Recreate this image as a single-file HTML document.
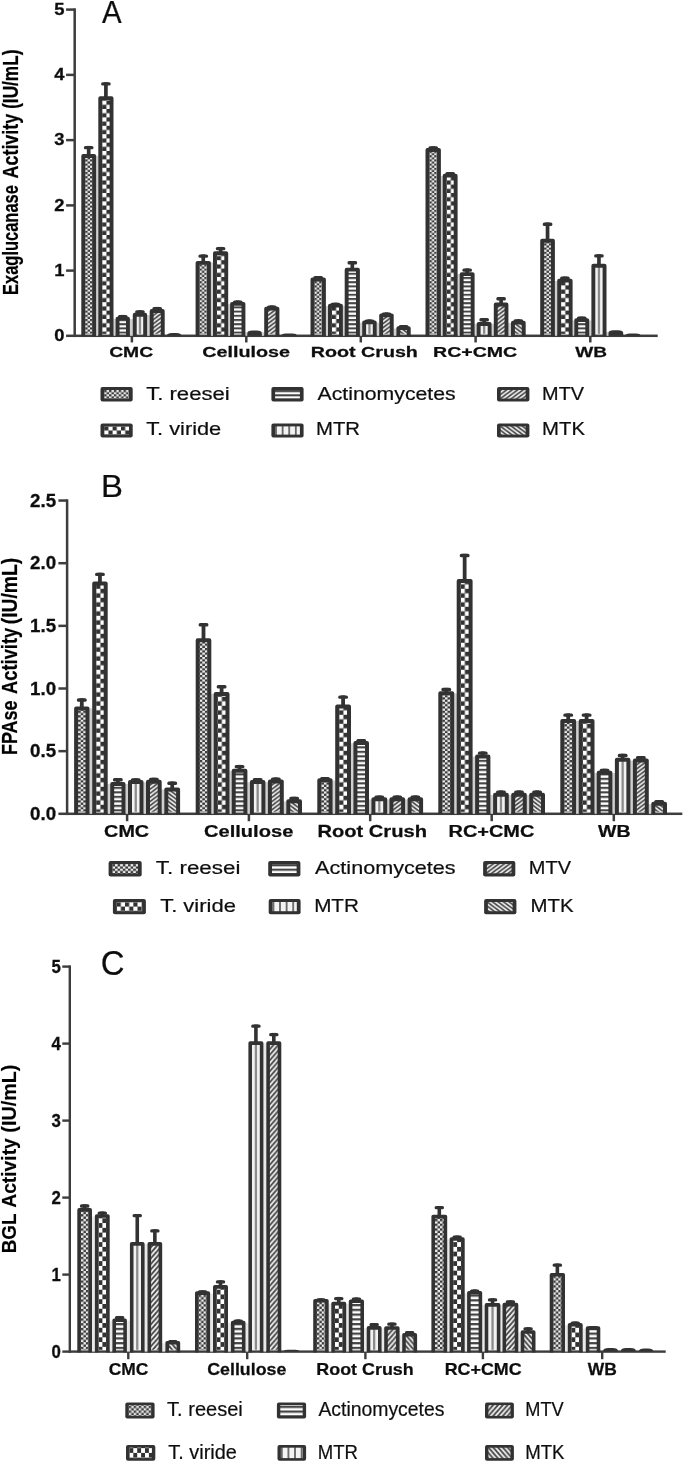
<!DOCTYPE html>
<html><head><meta charset="utf-8"><title>Enzyme activity charts</title>
<style>
html,body{margin:0;padding:0;background:#fff;}
body{width:685px;height:1464px;overflow:hidden;font-family:"Liberation Sans",sans-serif;}
svg{display:block;}
svg text{font-family:"Liberation Sans",sans-serif;}
</style></head><body>
<svg width="685" height="1464" viewBox="0 0 685 1464">
<defs>
<filter id="soft" x="0" y="0" width="100%" height="100%" filterUnits="userSpaceOnUse"><feGaussianBlur stdDeviation="0.6"/></filter>
<pattern id="p1a" width="4.84" height="4.2" patternUnits="userSpaceOnUse"><rect width="4.84" height="4.2" fill="#ececec"/><rect width="2.42" height="2.1" fill="#3a3a3a"/><rect x="2.42" y="2.1" width="2.42" height="2.1" fill="#3a3a3a"/></pattern>
<pattern id="p2a" width="8.4" height="8.4" patternUnits="userSpaceOnUse"><rect width="8.4" height="8.4" fill="#333"/><rect x="0" y="0" width="4.2" height="4.2" fill="#fff"/><rect x="4.2" y="4.2" width="4.2" height="4.2" fill="#fff"/></pattern>
<pattern id="p3a" width="8" height="4.2" patternUnits="userSpaceOnUse"><rect width="8" height="4.2" fill="#fff"/><rect width="8" height="1.9949999999999999" fill="#444"/></pattern>
<pattern id="p4a" width="6.6" height="8" patternUnits="userSpaceOnUse"><rect width="6.6" height="8" fill="#f4f4f4"/><rect x="0" width="1.8" height="8" fill="#666"/></pattern>
<pattern id="p5a" width="5.5" height="4.1" patternUnits="userSpaceOnUse"><rect width="5.5" height="4.1" fill="#f2f2f2"/><polygon points="0.000,-1.025 5.500,-5.125 5.500,-3.075 0.000,1.025" fill="#454545"/><polygon points="0.000,3.075 5.500,-1.025 5.500,1.025 0.000,5.125" fill="#454545"/><polygon points="0.000,7.175 5.500,3.075 5.500,5.125 0.000,9.225" fill="#454545"/></pattern>
<pattern id="p6a" width="5.5" height="4.1" patternUnits="userSpaceOnUse"><rect width="5.5" height="4.1" fill="#f2f2f2"/><polygon points="5.500,-1.025 0.000,-5.125 0.000,-3.075 5.500,1.025" fill="#454545"/><polygon points="5.500,3.075 0.000,-1.025 0.000,1.025 5.500,5.125" fill="#454545"/><polygon points="5.500,7.175 0.000,3.075 0.000,5.125 5.500,9.225" fill="#454545"/></pattern>
<pattern id="p1b" width="5.2" height="4.48" patternUnits="userSpaceOnUse"><rect width="5.2" height="4.48" fill="#ececec"/><rect width="2.6" height="2.24" fill="#3a3a3a"/><rect x="2.6" y="2.24" width="2.6" height="2.24" fill="#3a3a3a"/></pattern>
<pattern id="p2b" width="8.32" height="9.0" patternUnits="userSpaceOnUse"><rect width="8.32" height="9.0" fill="#333"/><rect x="0" y="0" width="4.16" height="4.5" fill="#fff"/><rect x="4.16" y="4.5" width="4.16" height="4.5" fill="#fff"/></pattern>
<pattern id="p3b" width="8" height="4.5" patternUnits="userSpaceOnUse"><rect width="8" height="4.5" fill="#fff"/><rect width="8" height="2.1374999999999997" fill="#444"/></pattern>
<pattern id="p4b" width="6.6" height="8" patternUnits="userSpaceOnUse"><rect width="6.6" height="8" fill="#f4f4f4"/><rect x="0" width="1.8" height="8" fill="#666"/></pattern>
<pattern id="p5b" width="5.5" height="4.1" patternUnits="userSpaceOnUse"><rect width="5.5" height="4.1" fill="#f2f2f2"/><polygon points="0.000,-1.025 5.500,-5.125 5.500,-3.075 0.000,1.025" fill="#454545"/><polygon points="0.000,3.075 5.500,-1.025 5.500,1.025 0.000,5.125" fill="#454545"/><polygon points="0.000,7.175 5.500,3.075 5.500,5.125 0.000,9.225" fill="#454545"/></pattern>
<pattern id="p6b" width="5.5" height="4.1" patternUnits="userSpaceOnUse"><rect width="5.5" height="4.1" fill="#f2f2f2"/><polygon points="5.500,-1.025 0.000,-5.125 0.000,-3.075 5.500,1.025" fill="#454545"/><polygon points="5.500,3.075 0.000,-1.025 0.000,1.025 5.500,5.125" fill="#454545"/><polygon points="5.500,7.175 0.000,3.075 0.000,5.125 5.500,9.225" fill="#454545"/></pattern>
<pattern id="p1c" width="5.0" height="4.74" patternUnits="userSpaceOnUse"><rect width="5.0" height="4.74" fill="#ececec"/><rect width="2.5" height="2.37" fill="#3a3a3a"/><rect x="2.5" y="2.37" width="2.5" height="2.37" fill="#3a3a3a"/></pattern>
<pattern id="p2c" width="7.8" height="9.52" patternUnits="userSpaceOnUse"><rect width="7.8" height="9.52" fill="#333"/><rect x="0" y="0" width="3.9" height="4.76" fill="#fff"/><rect x="3.9" y="4.76" width="3.9" height="4.76" fill="#fff"/></pattern>
<pattern id="p3c" width="8" height="4.76" patternUnits="userSpaceOnUse"><rect width="8" height="4.76" fill="#fff"/><rect width="8" height="2.2609999999999997" fill="#444"/></pattern>
<pattern id="p4c" width="6.6" height="8" patternUnits="userSpaceOnUse"><rect width="6.6" height="8" fill="#f4f4f4"/><rect x="0" width="1.8" height="8" fill="#666"/></pattern>
<pattern id="p5c" width="4.8" height="5.5" patternUnits="userSpaceOnUse"><rect width="4.8" height="5.5" fill="#f2f2f2"/><polygon points="0.000,-1.375 4.800,-6.875 4.800,-4.125 0.000,1.375" fill="#454545"/><polygon points="0.000,4.125 4.800,-1.375 4.800,1.375 0.000,6.875" fill="#454545"/><polygon points="0.000,9.625 4.800,4.125 4.800,6.875 0.000,12.375" fill="#454545"/></pattern>
<pattern id="p6c" width="4.8" height="5.5" patternUnits="userSpaceOnUse"><rect width="4.8" height="5.5" fill="#f2f2f2"/><polygon points="4.800,-1.375 0.000,-6.875 0.000,-4.125 4.800,1.375" fill="#454545"/><polygon points="4.800,4.125 0.000,-1.375 0.000,1.375 4.800,6.875" fill="#454545"/><polygon points="4.800,9.625 0.000,4.125 0.000,6.875 4.800,12.375" fill="#454545"/></pattern>
</defs>
<rect width="685" height="1464" fill="#fff"/>
<g filter="url(#soft)">
<rect x="73.45" y="8.35" width="2.5" height="328.70" fill="#3c3c3c"/>
<rect x="66.10" y="334.55" width="591.60" height="2.5" fill="#3c3c3c"/>
<rect x="66.10" y="269.35" width="8.60" height="2.5" fill="#3c3c3c"/>
<rect x="66.10" y="204.15" width="8.60" height="2.5" fill="#3c3c3c"/>
<rect x="66.10" y="138.85" width="8.60" height="2.5" fill="#3c3c3c"/>
<rect x="66.10" y="73.65" width="8.60" height="2.5" fill="#3c3c3c"/>
<rect x="66.10" y="8.35" width="8.60" height="2.5" fill="#3c3c3c"/>
<rect x="130.65" y="335.80" width="2.5" height="6.65" fill="#3c3c3c"/>
<rect x="245.05" y="335.80" width="2.5" height="6.65" fill="#3c3c3c"/>
<rect x="359.55" y="335.80" width="2.5" height="6.65" fill="#3c3c3c"/>
<rect x="474.35" y="335.80" width="2.5" height="6.65" fill="#3c3c3c"/>
<rect x="589.05" y="335.80" width="2.5" height="6.65" fill="#3c3c3c"/>
<text text-anchor="end" transform="translate(64.58,341.00) scale(1.1648,1)" font-size="15.80" font-weight="bold" fill="#111" stroke="#111" stroke-width="0.3">0</text>
<text text-anchor="end" transform="translate(64.58,275.80) scale(1.1648,1)" font-size="15.80" font-weight="bold" fill="#111" stroke="#111" stroke-width="0.3">1</text>
<text text-anchor="end" transform="translate(64.58,210.60) scale(1.1648,1)" font-size="15.80" font-weight="bold" fill="#111" stroke="#111" stroke-width="0.3">2</text>
<text text-anchor="end" transform="translate(64.58,145.30) scale(1.1648,1)" font-size="15.80" font-weight="bold" fill="#111" stroke="#111" stroke-width="0.3">3</text>
<text text-anchor="end" transform="translate(64.58,80.10) scale(1.1648,1)" font-size="15.80" font-weight="bold" fill="#111" stroke="#111" stroke-width="0.3">4</text>
<text text-anchor="end" transform="translate(64.58,14.80) scale(1.1648,1)" font-size="15.80" font-weight="bold" fill="#111" stroke="#111" stroke-width="0.3">5</text>
<text transform="translate(17.50,294.97) rotate(-90) scale(0.8242,1.1087)" font-size="20.0" font-weight="bold" fill="#000" stroke="#000" stroke-width="0.22">Exaglucanase</text>
<text transform="translate(17.50,178.45) rotate(-90) scale(0.8953,1.1087)" font-size="20.0" font-weight="bold" fill="#000" stroke="#000" stroke-width="0.22">Activity</text>
<text transform="translate(17.50,108.86) rotate(-90) scale(0.8610,1.1087)" font-size="20.0" font-weight="bold" fill="#000" stroke="#000" stroke-width="0.22">(IU/mL)</text>
<text transform="translate(102.00,23.30) scale(0.9548,1)" font-size="30.87" font-weight="normal" fill="#111" stroke="#111" stroke-width="0.22">A</text>
<rect x="95.80" y="155.70" width="2.80" height="180.10" fill="#cfcfcf"/>
<rect x="113.20" y="319.00" width="2.70" height="16.80" fill="#cfcfcf"/>
<rect x="129.60" y="319.00" width="3.50" height="16.80" fill="#cfcfcf"/>
<rect x="146.80" y="315.00" width="3.20" height="20.80" fill="#cfcfcf"/>
<rect x="86.85" y="145.90" width="3.70" height="9.20" fill="#333"/>
<rect x="83.90" y="145.90" width="9.60" height="3.40" rx="1.5" fill="#333"/>
<g transform="translate(85.20,335.80)"><rect x="-1.95" y="-179.75" width="10.90" height="177.80" fill="url(#p1a)"/></g>
<path d="M83.25 336.60V156.05H94.15V336.60" fill="none" stroke="#333" stroke-width="3.9" stroke-linejoin="round"/>
<rect x="104.05" y="82.20" width="3.70" height="15.10" fill="#333"/>
<rect x="101.10" y="82.20" width="9.60" height="3.40" rx="1.5" fill="#333"/>
<g transform="translate(102.20,335.80)"><rect x="-1.95" y="-237.55" width="11.30" height="235.60" fill="url(#p2a)"/></g>
<path d="M100.25 336.60V98.25H111.55V336.60" fill="none" stroke="#333" stroke-width="3.9" stroke-linejoin="round"/>
<rect x="120.90" y="314.90" width="3.70" height="2.80" fill="#333"/>
<rect x="117.95" y="314.90" width="9.60" height="3.40" rx="1.5" fill="#333"/>
<g transform="translate(119.50,335.80)"><rect x="-1.95" y="-17.15" width="10.40" height="15.20" fill="url(#p3a)"/></g>
<path d="M117.55 336.60V318.65H127.95V336.60" fill="none" stroke="#333" stroke-width="3.9" stroke-linejoin="round"/>
<rect x="138.10" y="310.20" width="3.70" height="3.59" fill="#333"/>
<rect x="135.15" y="310.20" width="9.60" height="3.40" rx="1.5" fill="#333"/>
<rect x="134.75" y="314.74" width="10.40" height="19.11" fill="#f2f2f2"/>
<rect x="138.80" y="314.74" width="2.3" height="19.11" fill="#8c8c8c"/>
<path d="M134.75 336.60V314.74H145.15V336.60" fill="none" stroke="#333" stroke-width="3.9" stroke-linejoin="round"/>
<rect x="155.35" y="306.90" width="3.70" height="3.20" fill="#333"/>
<rect x="152.40" y="306.90" width="9.60" height="3.40" rx="1.5" fill="#333"/>
<g transform="translate(153.60,335.80)"><rect x="-1.95" y="-24.75" width="11.10" height="22.80" fill="url(#p5a)"/></g>
<path d="M151.65 336.60V311.05H162.75V336.60" fill="none" stroke="#333" stroke-width="3.9" stroke-linejoin="round"/>
<path d="M167.00 335.80V335.40Q167.00 332.90 172.00 332.90H176.30Q181.30 332.90 181.30 335.40V335.80Z" fill="#333"/>
<rect x="210.60" y="262.50" width="2.70" height="73.30" fill="#cfcfcf"/>
<rect x="227.90" y="304.20" width="2.50" height="31.60" fill="#cfcfcf"/>
<rect x="245.10" y="332.30" width="2.50" height="3.50" fill="#cfcfcf"/>
<rect x="261.50" y="332.30" width="3.00" height="3.50" fill="#cfcfcf"/>
<rect x="201.40" y="254.40" width="3.70" height="7.50" fill="#333"/>
<rect x="198.45" y="254.40" width="9.60" height="3.40" rx="1.5" fill="#333"/>
<g transform="translate(199.50,335.80)"><rect x="-1.95" y="-72.95" width="11.40" height="71.00" fill="url(#p1a)"/></g>
<path d="M197.55 336.60V262.85H208.95V336.60" fill="none" stroke="#333" stroke-width="3.9" stroke-linejoin="round"/>
<rect x="218.75" y="246.90" width="3.70" height="5.35" fill="#333"/>
<rect x="215.80" y="246.90" width="9.60" height="3.40" rx="1.5" fill="#333"/>
<g transform="translate(216.90,335.80)"><rect x="-1.95" y="-82.60" width="11.30" height="80.65" fill="url(#p2a)"/></g>
<path d="M214.95 336.60V253.20H226.25V336.60" fill="none" stroke="#333" stroke-width="3.9" stroke-linejoin="round"/>
<rect x="235.90" y="300.40" width="3.70" height="2.50" fill="#333"/>
<rect x="232.95" y="300.40" width="9.60" height="3.40" rx="1.5" fill="#333"/>
<g transform="translate(234.00,335.80)"><rect x="-1.95" y="-31.95" width="11.40" height="30.00" fill="url(#p3a)"/></g>
<path d="M232.05 336.60V303.85H243.45V336.60" fill="none" stroke="#333" stroke-width="3.9" stroke-linejoin="round"/>
<path d="M247.30 335.80V333.10Q247.30 330.60 252.30 330.60H256.80Q261.80 330.60 261.80 333.10V335.80Z" fill="#333"/>
<rect x="269.95" y="305.40" width="3.70" height="2.30" fill="#333"/>
<rect x="267.00" y="305.40" width="9.60" height="3.40" rx="1.5" fill="#333"/>
<g transform="translate(268.10,335.80)"><rect x="-1.95" y="-27.15" width="11.30" height="25.20" fill="url(#p5a)"/></g>
<path d="M266.15 336.60V308.65H277.45V336.60" fill="none" stroke="#333" stroke-width="3.9" stroke-linejoin="round"/>
<path d="M281.50 335.80V335.80Q281.50 333.60 285.90 333.60H292.40Q296.80 333.60 296.80 335.80V335.80Z" fill="#333"/>
<rect x="325.60" y="306.00" width="2.70" height="29.80" fill="#cfcfcf"/>
<rect x="342.60" y="306.00" width="2.40" height="29.80" fill="#cfcfcf"/>
<rect x="359.60" y="322.70" width="2.90" height="13.10" fill="#cfcfcf"/>
<rect x="376.40" y="322.70" width="3.10" height="13.10" fill="#cfcfcf"/>
<rect x="393.40" y="328.50" width="3.30" height="7.30" fill="#cfcfcf"/>
<rect x="316.35" y="276.10" width="3.70" height="2.40" fill="#333"/>
<rect x="313.40" y="276.10" width="9.60" height="3.40" rx="1.5" fill="#333"/>
<g transform="translate(314.40,335.80)"><rect x="-1.95" y="-56.35" width="11.50" height="54.40" fill="url(#p1a)"/></g>
<path d="M312.45 336.60V279.45H323.95V336.60" fill="none" stroke="#333" stroke-width="3.9" stroke-linejoin="round"/>
<rect x="333.60" y="302.70" width="3.70" height="2.00" fill="#333"/>
<rect x="330.65" y="302.70" width="9.60" height="3.40" rx="1.5" fill="#333"/>
<g transform="translate(331.90,335.80)"><rect x="-1.95" y="-30.15" width="11.00" height="28.20" fill="url(#p2a)"/></g>
<path d="M329.95 336.60V305.65H340.95V336.60" fill="none" stroke="#333" stroke-width="3.9" stroke-linejoin="round"/>
<rect x="350.45" y="261.00" width="3.70" height="7.70" fill="#333"/>
<rect x="347.50" y="261.00" width="9.60" height="3.40" rx="1.5" fill="#333"/>
<g transform="translate(348.60,335.80)"><rect x="-1.95" y="-66.15" width="11.30" height="64.20" fill="url(#p3a)"/></g>
<path d="M346.65 336.60V269.65H357.95V336.60" fill="none" stroke="#333" stroke-width="3.9" stroke-linejoin="round"/>
<rect x="367.60" y="319.40" width="3.70" height="2.00" fill="#333"/>
<rect x="364.65" y="319.40" width="9.60" height="3.40" rx="1.5" fill="#333"/>
<rect x="364.15" y="322.35" width="10.60" height="11.50" fill="#f2f2f2"/>
<rect x="368.30" y="322.35" width="2.3" height="11.50" fill="#8c8c8c"/>
<path d="M364.15 336.60V322.35H374.75V336.60" fill="none" stroke="#333" stroke-width="3.9" stroke-linejoin="round"/>
<rect x="384.60" y="312.40" width="3.70" height="2.00" fill="#333"/>
<rect x="381.65" y="312.40" width="9.60" height="3.40" rx="1.5" fill="#333"/>
<g transform="translate(383.10,335.80)"><rect x="-1.95" y="-20.45" width="10.60" height="18.50" fill="url(#p5a)"/></g>
<path d="M381.15 336.60V315.35H391.75V336.60" fill="none" stroke="#333" stroke-width="3.9" stroke-linejoin="round"/>
<rect x="401.70" y="325.10" width="3.70" height="2.10" fill="#333"/>
<rect x="398.75" y="325.10" width="9.60" height="3.40" rx="1.5" fill="#333"/>
<g transform="translate(400.30,335.80)"><rect x="-1.95" y="-7.65" width="10.40" height="5.70" fill="url(#p6a)"/></g>
<path d="M398.35 336.60V328.15H408.75V336.60" fill="none" stroke="#333" stroke-width="3.9" stroke-linejoin="round"/>
<rect x="440.60" y="176.00" width="2.40" height="159.80" fill="#cfcfcf"/>
<rect x="457.30" y="274.00" width="2.70" height="61.80" fill="#cfcfcf"/>
<rect x="474.30" y="323.80" width="2.70" height="12.00" fill="#cfcfcf"/>
<rect x="491.30" y="323.80" width="2.80" height="12.00" fill="#cfcfcf"/>
<rect x="508.10" y="323.00" width="3.20" height="12.80" fill="#cfcfcf"/>
<rect x="431.35" y="146.30" width="3.70" height="2.80" fill="#333"/>
<rect x="428.40" y="146.30" width="9.60" height="3.40" rx="1.5" fill="#333"/>
<g transform="translate(429.40,335.80)"><rect x="-1.95" y="-185.75" width="11.50" height="183.80" fill="url(#p1a)"/></g>
<path d="M427.45 336.60V150.05H438.95V336.60" fill="none" stroke="#333" stroke-width="3.9" stroke-linejoin="round"/>
<rect x="448.30" y="172.10" width="3.70" height="2.60" fill="#333"/>
<rect x="445.35" y="172.10" width="9.60" height="3.40" rx="1.5" fill="#333"/>
<g transform="translate(446.60,335.80)"><rect x="-1.95" y="-160.15" width="11.00" height="158.20" fill="url(#p2a)"/></g>
<path d="M444.65 336.60V175.65H455.65V336.60" fill="none" stroke="#333" stroke-width="3.9" stroke-linejoin="round"/>
<rect x="465.30" y="268.40" width="3.70" height="4.77" fill="#333"/>
<rect x="462.35" y="268.40" width="9.60" height="3.40" rx="1.5" fill="#333"/>
<g transform="translate(463.60,335.80)"><rect x="-1.95" y="-61.68" width="11.00" height="59.73" fill="url(#p3a)"/></g>
<path d="M461.65 336.60V274.12H472.65V336.60" fill="none" stroke="#333" stroke-width="3.9" stroke-linejoin="round"/>
<rect x="482.30" y="318.00" width="3.70" height="5.06" fill="#333"/>
<rect x="479.35" y="318.00" width="9.60" height="3.40" rx="1.5" fill="#333"/>
<rect x="478.65" y="324.01" width="11.00" height="9.84" fill="#f2f2f2"/>
<rect x="483.00" y="324.01" width="2.3" height="9.84" fill="#8c8c8c"/>
<path d="M478.65 336.60V324.01H489.65V336.60" fill="none" stroke="#333" stroke-width="3.9" stroke-linejoin="round"/>
<rect x="499.25" y="297.00" width="3.70" height="6.60" fill="#333"/>
<rect x="496.30" y="297.00" width="9.60" height="3.40" rx="1.5" fill="#333"/>
<g transform="translate(497.70,335.80)"><rect x="-1.95" y="-31.25" width="10.70" height="29.30" fill="url(#p5a)"/></g>
<path d="M495.75 336.60V304.55H506.45V336.60" fill="none" stroke="#333" stroke-width="3.9" stroke-linejoin="round"/>
<rect x="516.50" y="319.20" width="3.70" height="2.50" fill="#333"/>
<rect x="513.55" y="319.20" width="9.60" height="3.40" rx="1.5" fill="#333"/>
<g transform="translate(514.90,335.80)"><rect x="-1.95" y="-13.15" width="10.80" height="11.20" fill="url(#p6a)"/></g>
<path d="M512.95 336.60V322.65H523.75V336.60" fill="none" stroke="#333" stroke-width="3.9" stroke-linejoin="round"/>
<rect x="554.60" y="281.00" width="2.90" height="54.80" fill="#cfcfcf"/>
<rect x="572.30" y="320.50" width="2.30" height="15.30" fill="#cfcfcf"/>
<rect x="588.90" y="320.50" width="2.80" height="15.30" fill="#cfcfcf"/>
<rect x="606.20" y="331.90" width="2.60" height="3.90" fill="#cfcfcf"/>
<rect x="545.70" y="222.50" width="3.70" height="17.30" fill="#333"/>
<rect x="542.75" y="222.50" width="9.60" height="3.40" rx="1.5" fill="#333"/>
<g transform="translate(544.10,335.80)"><rect x="-1.95" y="-95.05" width="10.80" height="93.10" fill="url(#p1a)"/></g>
<path d="M542.15 336.60V240.75H552.95V336.60" fill="none" stroke="#333" stroke-width="3.9" stroke-linejoin="round"/>
<rect x="563.05" y="276.50" width="3.70" height="3.20" fill="#333"/>
<rect x="560.10" y="276.50" width="9.60" height="3.40" rx="1.5" fill="#333"/>
<g transform="translate(561.10,335.80)"><rect x="-1.95" y="-55.15" width="11.50" height="53.20" fill="url(#p2a)"/></g>
<path d="M559.15 336.60V280.65H570.65V336.60" fill="none" stroke="#333" stroke-width="3.9" stroke-linejoin="round"/>
<rect x="579.90" y="316.60" width="3.70" height="2.60" fill="#333"/>
<rect x="576.95" y="316.60" width="9.60" height="3.40" rx="1.5" fill="#333"/>
<g transform="translate(578.20,335.80)"><rect x="-1.95" y="-15.65" width="11.00" height="13.70" fill="url(#p3a)"/></g>
<path d="M576.25 336.60V320.15H587.25V336.60" fill="none" stroke="#333" stroke-width="3.9" stroke-linejoin="round"/>
<rect x="597.10" y="254.20" width="3.70" height="10.60" fill="#333"/>
<rect x="594.15" y="254.20" width="9.60" height="3.40" rx="1.5" fill="#333"/>
<rect x="593.35" y="265.75" width="11.20" height="68.10" fill="#f2f2f2"/>
<rect x="597.80" y="265.75" width="2.3" height="68.10" fill="#8c8c8c"/>
<path d="M593.35 336.60V265.75H604.55V336.60" fill="none" stroke="#333" stroke-width="3.9" stroke-linejoin="round"/>
<path d="M608.50 335.80V332.70Q608.50 330.20 613.50 330.20H618.20Q623.20 330.20 623.20 332.70V335.80Z" fill="#333"/>
<path d="M625.50 335.80V335.80Q625.50 333.60 629.90 333.60H636.00Q640.40 333.60 640.40 335.80V335.80Z" fill="#333"/>
<text transform="translate(109.13,356.60) scale(1.3005,1)" font-size="14.86" font-weight="bold" fill="#111" stroke="#111" stroke-width="0.25">CMC</text>
<text transform="translate(202.21,356.60) scale(1.3292,1)" font-size="14.86" font-weight="bold" fill="#111" stroke="#111" stroke-width="0.25">Cellulose</text>
<text transform="translate(310.82,356.60) scale(1.3246,1)" font-size="14.86" font-weight="bold" fill="#111" stroke="#111" stroke-width="0.25">Root Crush</text>
<text transform="translate(433.03,356.60) scale(1.3158,1)" font-size="14.86" font-weight="bold" fill="#111" stroke="#111" stroke-width="0.25">RC+CMC</text>
<text transform="translate(575.20,356.60) scale(1.2838,1)" font-size="14.86" font-weight="bold" fill="#111" stroke="#111" stroke-width="0.25">WB</text>
<rect x="100.50" y="387.00" width="32.20" height="14.60" rx="2" fill="#333"/>
<g transform="translate(104.20,394.30)"><rect x="0" y="-4.30" width="24.80" height="8.60" fill="url(#p1a)"/></g>
<text transform="translate(146.16,399.80) scale(1.2110,1)" font-size="18.26" font-weight="normal" fill="#111" stroke="#111" stroke-width="0.22">T. reesei</text>
<rect x="100.50" y="423.40" width="32.20" height="14.20" rx="2" fill="#333"/>
<g transform="translate(104.20,430.50)"><rect x="0" y="-4.10" width="24.80" height="8.20" fill="url(#p2a)"/></g>
<text transform="translate(146.16,435.40) scale(1.2036,1)" font-size="18.12" font-weight="normal" fill="#111" stroke="#111" stroke-width="0.22">T. viride</text>
<rect x="271.40" y="387.00" width="32.20" height="14.60" rx="2" fill="#333"/>
<g transform="translate(275.10,394.30)"><rect x="0" y="-4.30" width="24.80" height="8.60" fill="url(#p3a)"/></g>
<text transform="translate(317.60,399.80) scale(1.1629,1)" font-size="18.26" font-weight="normal" fill="#111" stroke="#111" stroke-width="0.22">Actinomycetes</text>
<rect x="271.40" y="423.40" width="32.20" height="14.20" rx="2" fill="#333"/>
<g transform="translate(275.10,430.50)"><rect x="0" y="-4.10" width="24.80" height="8.20" fill="url(#p4a)"/></g>
<text transform="translate(315.97,435.40) scale(1.1229,1)" font-size="18.12" font-weight="normal" fill="#111" stroke="#111" stroke-width="0.22">MTR</text>
<rect x="497.00" y="387.00" width="32.40" height="14.60" rx="2" fill="#333"/>
<g transform="translate(500.70,394.30)"><rect x="0" y="-4.30" width="25.00" height="8.60" fill="url(#p5a)"/></g>
<text transform="translate(542.11,399.80) scale(1.0898,1)" font-size="18.26" font-weight="normal" fill="#111" stroke="#111" stroke-width="0.22">MTV</text>
<rect x="497.00" y="423.40" width="32.40" height="14.20" rx="2" fill="#333"/>
<g transform="translate(500.70,430.50)"><rect x="0" y="-4.10" width="25.00" height="8.20" fill="url(#p6a)"/></g>
<text transform="translate(542.08,435.40) scale(1.1204,1)" font-size="18.12" font-weight="normal" fill="#111" stroke="#111" stroke-width="0.22">MTK</text>
<rect x="65.85" y="499.30" width="2.5" height="315.75" fill="#3c3c3c"/>
<rect x="58.40" y="812.55" width="623.90" height="2.5" fill="#3c3c3c"/>
<rect x="58.40" y="749.90" width="8.70" height="2.5" fill="#3c3c3c"/>
<rect x="58.40" y="687.25" width="8.70" height="2.5" fill="#3c3c3c"/>
<rect x="58.40" y="624.60" width="8.70" height="2.5" fill="#3c3c3c"/>
<rect x="58.40" y="561.95" width="8.70" height="2.5" fill="#3c3c3c"/>
<rect x="58.40" y="499.30" width="8.70" height="2.5" fill="#3c3c3c"/>
<rect x="125.85" y="813.80" width="2.5" height="7.40" fill="#3c3c3c"/>
<rect x="247.65" y="813.80" width="2.5" height="7.40" fill="#3c3c3c"/>
<rect x="368.95" y="813.80" width="2.5" height="7.40" fill="#3c3c3c"/>
<rect x="490.45" y="813.80" width="2.5" height="7.40" fill="#3c3c3c"/>
<rect x="612.55" y="813.80" width="2.5" height="7.40" fill="#3c3c3c"/>
<text text-anchor="end" transform="translate(56.07,819.80) scale(1.0676,1)" font-size="17.54" font-weight="bold" fill="#111" stroke="#111" stroke-width="0.3">0.0</text>
<text text-anchor="end" transform="translate(56.07,757.15) scale(1.0676,1)" font-size="17.54" font-weight="bold" fill="#111" stroke="#111" stroke-width="0.3">0.5</text>
<text text-anchor="end" transform="translate(56.07,694.50) scale(1.0676,1)" font-size="17.54" font-weight="bold" fill="#111" stroke="#111" stroke-width="0.3">1.0</text>
<text text-anchor="end" transform="translate(56.07,631.85) scale(1.0676,1)" font-size="17.54" font-weight="bold" fill="#111" stroke="#111" stroke-width="0.3">1.5</text>
<text text-anchor="end" transform="translate(56.07,569.20) scale(1.0676,1)" font-size="17.54" font-weight="bold" fill="#111" stroke="#111" stroke-width="0.3">2.0</text>
<text text-anchor="end" transform="translate(56.07,506.55) scale(1.0676,1)" font-size="17.54" font-weight="bold" fill="#111" stroke="#111" stroke-width="0.3">2.5</text>
<text transform="translate(17.20,755.07) rotate(-90) scale(0.8995,1.1232)" font-size="20.0" font-weight="bold" fill="#000" stroke="#000" stroke-width="0.22">FPAse</text>
<text transform="translate(17.20,693.96) rotate(-90) scale(0.9162,1.1232)" font-size="20.0" font-weight="bold" fill="#000" stroke="#000" stroke-width="0.22">Activity</text>
<text transform="translate(17.20,624.26) rotate(-90) scale(0.9641,1.1232)" font-size="20.0" font-weight="bold" fill="#000" stroke="#000" stroke-width="0.22">(IU/mL)</text>
<text transform="translate(101.07,497.10) scale(1.0607,1)" font-size="31.01" font-weight="normal" fill="#111" stroke="#111" stroke-width="0.22">B</text>
<rect x="89.20" y="708.40" width="3.30" height="105.40" fill="#cfcfcf"/>
<rect x="107.40" y="784.00" width="3.10" height="29.80" fill="#cfcfcf"/>
<rect x="125.20" y="784.00" width="3.10" height="29.80" fill="#cfcfcf"/>
<rect x="143.20" y="782.30" width="3.10" height="31.50" fill="#cfcfcf"/>
<rect x="161.40" y="789.50" width="3.20" height="24.30" fill="#cfcfcf"/>
<rect x="79.90" y="698.30" width="3.80" height="9.20" fill="#333"/>
<rect x="76.90" y="698.30" width="9.80" height="3.40" rx="1.5" fill="#333"/>
<g transform="translate(78.10,813.80)"><rect x="-2.00" y="-105.30" width="11.40" height="103.30" fill="url(#p1b)"/></g>
<path d="M76.10 814.60V708.50H87.50V814.60" fill="none" stroke="#333" stroke-width="4.0" stroke-linejoin="round"/>
<rect x="98.05" y="572.70" width="3.80" height="9.80" fill="#333"/>
<rect x="95.05" y="572.70" width="9.80" height="3.40" rx="1.5" fill="#333"/>
<g transform="translate(96.20,813.80)"><rect x="-2.00" y="-230.30" width="11.50" height="228.30" fill="url(#p2b)"/></g>
<path d="M94.20 814.60V583.50H105.70V814.60" fill="none" stroke="#333" stroke-width="4.0" stroke-linejoin="round"/>
<rect x="115.95" y="778.08" width="3.80" height="4.91" fill="#333"/>
<rect x="112.95" y="778.08" width="9.80" height="3.40" rx="1.5" fill="#333"/>
<g transform="translate(114.20,813.80)"><rect x="-2.00" y="-29.81" width="11.30" height="27.81" fill="url(#p3b)"/></g>
<path d="M112.20 814.60V783.99H123.50V814.60" fill="none" stroke="#333" stroke-width="4.0" stroke-linejoin="round"/>
<rect x="133.85" y="778.30" width="3.80" height="2.70" fill="#333"/>
<rect x="130.85" y="778.30" width="9.80" height="3.40" rx="1.5" fill="#333"/>
<rect x="130.00" y="782.00" width="11.50" height="29.80" fill="#f2f2f2"/>
<rect x="134.60" y="782.00" width="2.3" height="29.80" fill="#8c8c8c"/>
<path d="M130.00 814.60V782.00H141.50V814.60" fill="none" stroke="#333" stroke-width="4.0" stroke-linejoin="round"/>
<rect x="151.95" y="777.70" width="3.80" height="3.00" fill="#333"/>
<rect x="148.95" y="777.70" width="9.80" height="3.40" rx="1.5" fill="#333"/>
<g transform="translate(150.00,813.80)"><rect x="-2.00" y="-32.10" width="11.70" height="30.10" fill="url(#p5b)"/></g>
<path d="M148.00 814.60V781.70H159.70V814.60" fill="none" stroke="#333" stroke-width="4.0" stroke-linejoin="round"/>
<rect x="170.30" y="781.50" width="3.80" height="7.10" fill="#333"/>
<rect x="167.30" y="781.50" width="9.80" height="3.40" rx="1.5" fill="#333"/>
<g transform="translate(168.30,813.80)"><rect x="-2.00" y="-24.20" width="11.80" height="22.20" fill="url(#p6b)"/></g>
<path d="M166.30 814.60V789.60H178.10V814.60" fill="none" stroke="#333" stroke-width="4.0" stroke-linejoin="round"/>
<rect x="211.00" y="693.80" width="3.00" height="120.00" fill="#cfcfcf"/>
<rect x="229.20" y="770.80" width="2.80" height="43.00" fill="#cfcfcf"/>
<rect x="247.10" y="782.30" width="3.10" height="31.50" fill="#cfcfcf"/>
<rect x="265.10" y="782.30" width="3.10" height="31.50" fill="#cfcfcf"/>
<rect x="283.50" y="801.50" width="3.10" height="12.30" fill="#cfcfcf"/>
<rect x="201.60" y="623.00" width="3.80" height="16.30" fill="#333"/>
<rect x="198.60" y="623.00" width="9.80" height="3.40" rx="1.5" fill="#333"/>
<g transform="translate(199.70,813.80)"><rect x="-2.00" y="-173.50" width="11.60" height="171.50" fill="url(#p1b)"/></g>
<path d="M197.70 814.60V640.30H209.30V814.60" fill="none" stroke="#333" stroke-width="4.0" stroke-linejoin="round"/>
<rect x="219.70" y="685.10" width="3.80" height="7.80" fill="#333"/>
<rect x="216.70" y="685.10" width="9.80" height="3.40" rx="1.5" fill="#333"/>
<g transform="translate(217.70,813.80)"><rect x="-2.00" y="-119.90" width="11.80" height="117.90" fill="url(#p2b)"/></g>
<path d="M215.70 814.60V693.90H227.50V814.60" fill="none" stroke="#333" stroke-width="4.0" stroke-linejoin="round"/>
<rect x="237.65" y="764.88" width="3.80" height="4.91" fill="#333"/>
<rect x="234.65" y="764.88" width="9.80" height="3.40" rx="1.5" fill="#333"/>
<g transform="translate(235.70,813.80)"><rect x="-2.00" y="-43.01" width="11.70" height="41.01" fill="url(#p3b)"/></g>
<path d="M233.70 814.60V770.79H245.40V814.60" fill="none" stroke="#333" stroke-width="4.0" stroke-linejoin="round"/>
<rect x="255.75" y="778.00" width="3.80" height="3.00" fill="#333"/>
<rect x="252.75" y="778.00" width="9.80" height="3.40" rx="1.5" fill="#333"/>
<rect x="251.90" y="782.00" width="11.50" height="29.80" fill="#f2f2f2"/>
<rect x="256.50" y="782.00" width="2.3" height="29.80" fill="#8c8c8c"/>
<path d="M251.90 814.60V782.00H263.40V814.60" fill="none" stroke="#333" stroke-width="4.0" stroke-linejoin="round"/>
<rect x="273.95" y="777.40" width="3.80" height="3.00" fill="#333"/>
<rect x="270.95" y="777.40" width="9.80" height="3.40" rx="1.5" fill="#333"/>
<g transform="translate(271.90,813.80)"><rect x="-2.00" y="-32.40" width="11.90" height="30.40" fill="url(#p5b)"/></g>
<path d="M269.90 814.60V781.40H281.80V814.60" fill="none" stroke="#333" stroke-width="4.0" stroke-linejoin="round"/>
<rect x="292.25" y="796.78" width="3.80" height="3.45" fill="#333"/>
<rect x="289.25" y="796.78" width="9.80" height="3.40" rx="1.5" fill="#333"/>
<g transform="translate(290.30,813.80)"><rect x="-2.00" y="-12.57" width="11.70" height="10.57" fill="url(#p6b)"/></g>
<path d="M288.30 814.60V801.23H300.00V814.60" fill="none" stroke="#333" stroke-width="4.0" stroke-linejoin="round"/>
<rect x="332.30" y="780.50" width="3.20" height="33.30" fill="#cfcfcf"/>
<rect x="350.70" y="743.30" width="3.00" height="70.50" fill="#cfcfcf"/>
<rect x="368.70" y="799.50" width="3.00" height="14.30" fill="#cfcfcf"/>
<rect x="386.90" y="799.50" width="2.80" height="14.30" fill="#cfcfcf"/>
<rect x="404.80" y="799.50" width="3.10" height="14.30" fill="#cfcfcf"/>
<rect x="323.05" y="777.10" width="3.80" height="2.10" fill="#333"/>
<rect x="320.05" y="777.10" width="9.80" height="3.40" rx="1.5" fill="#333"/>
<g transform="translate(321.30,813.80)"><rect x="-2.00" y="-33.60" width="11.30" height="31.60" fill="url(#p1b)"/></g>
<path d="M319.30 814.60V780.20H330.60V814.60" fill="none" stroke="#333" stroke-width="4.0" stroke-linejoin="round"/>
<rect x="341.20" y="695.40" width="3.80" height="10.20" fill="#333"/>
<rect x="338.20" y="695.40" width="9.80" height="3.40" rx="1.5" fill="#333"/>
<g transform="translate(339.20,813.80)"><rect x="-2.00" y="-107.20" width="11.80" height="105.20" fill="url(#p2b)"/></g>
<path d="M337.20 814.60V706.60H349.00V814.60" fill="none" stroke="#333" stroke-width="4.0" stroke-linejoin="round"/>
<rect x="359.30" y="739.10" width="3.80" height="2.90" fill="#333"/>
<rect x="356.30" y="739.10" width="9.80" height="3.40" rx="1.5" fill="#333"/>
<g transform="translate(357.40,813.80)"><rect x="-2.00" y="-70.80" width="11.60" height="68.80" fill="url(#p3b)"/></g>
<path d="M355.40 814.60V743.00H367.00V814.60" fill="none" stroke="#333" stroke-width="4.0" stroke-linejoin="round"/>
<rect x="377.40" y="795.50" width="3.80" height="2.70" fill="#333"/>
<rect x="374.40" y="795.50" width="9.80" height="3.40" rx="1.5" fill="#333"/>
<rect x="373.40" y="799.20" width="11.80" height="12.60" fill="#f2f2f2"/>
<rect x="378.15" y="799.20" width="2.3" height="12.60" fill="#8c8c8c"/>
<path d="M373.40 814.60V799.20H385.20V814.60" fill="none" stroke="#333" stroke-width="4.0" stroke-linejoin="round"/>
<rect x="395.35" y="795.40" width="3.80" height="2.80" fill="#333"/>
<rect x="392.35" y="795.40" width="9.80" height="3.40" rx="1.5" fill="#333"/>
<g transform="translate(393.40,813.80)"><rect x="-2.00" y="-14.60" width="11.70" height="12.60" fill="url(#p5b)"/></g>
<path d="M391.40 814.60V799.20H403.10V814.60" fill="none" stroke="#333" stroke-width="4.0" stroke-linejoin="round"/>
<rect x="413.45" y="795.40" width="3.80" height="2.80" fill="#333"/>
<rect x="410.45" y="795.40" width="9.80" height="3.40" rx="1.5" fill="#333"/>
<g transform="translate(411.60,813.80)"><rect x="-2.00" y="-14.60" width="11.50" height="12.60" fill="url(#p6b)"/></g>
<path d="M409.60 814.60V799.20H421.10V814.60" fill="none" stroke="#333" stroke-width="4.0" stroke-linejoin="round"/>
<rect x="453.90" y="693.30" width="3.10" height="120.50" fill="#cfcfcf"/>
<rect x="472.30" y="756.60" width="3.10" height="57.20" fill="#cfcfcf"/>
<rect x="490.10" y="795.00" width="3.30" height="18.80" fill="#cfcfcf"/>
<rect x="508.50" y="795.00" width="3.00" height="18.80" fill="#cfcfcf"/>
<rect x="526.50" y="795.00" width="3.00" height="18.80" fill="#cfcfcf"/>
<rect x="444.35" y="687.86" width="3.80" height="4.33" fill="#333"/>
<rect x="441.35" y="687.86" width="9.80" height="3.40" rx="1.5" fill="#333"/>
<g transform="translate(442.30,813.80)"><rect x="-2.00" y="-120.61" width="11.90" height="118.61" fill="url(#p1b)"/></g>
<path d="M440.30 814.60V693.19H452.20V814.60" fill="none" stroke="#333" stroke-width="4.0" stroke-linejoin="round"/>
<rect x="462.75" y="553.80" width="3.80" height="26.20" fill="#333"/>
<rect x="459.75" y="553.80" width="9.80" height="3.40" rx="1.5" fill="#333"/>
<g transform="translate(460.70,813.80)"><rect x="-2.00" y="-232.80" width="11.90" height="230.80" fill="url(#p2b)"/></g>
<path d="M458.70 814.60V581.00H470.60V814.60" fill="none" stroke="#333" stroke-width="4.0" stroke-linejoin="round"/>
<rect x="480.85" y="751.40" width="3.80" height="4.03" fill="#333"/>
<rect x="477.85" y="751.40" width="9.80" height="3.40" rx="1.5" fill="#333"/>
<g transform="translate(479.10,813.80)"><rect x="-2.00" y="-57.37" width="11.30" height="55.37" fill="url(#p3b)"/></g>
<path d="M477.10 814.60V756.43H488.40V814.60" fill="none" stroke="#333" stroke-width="4.0" stroke-linejoin="round"/>
<rect x="499.05" y="790.40" width="3.80" height="3.30" fill="#333"/>
<rect x="496.05" y="790.40" width="9.80" height="3.40" rx="1.5" fill="#333"/>
<rect x="495.10" y="794.70" width="11.70" height="17.10" fill="#f2f2f2"/>
<rect x="499.80" y="794.70" width="2.3" height="17.10" fill="#8c8c8c"/>
<path d="M495.10 814.60V794.70H506.80V814.60" fill="none" stroke="#333" stroke-width="4.0" stroke-linejoin="round"/>
<rect x="517.10" y="790.40" width="3.80" height="3.30" fill="#333"/>
<rect x="514.10" y="790.40" width="9.80" height="3.40" rx="1.5" fill="#333"/>
<g transform="translate(515.20,813.80)"><rect x="-2.00" y="-19.10" width="11.60" height="17.10" fill="url(#p5b)"/></g>
<path d="M513.20 814.60V794.70H524.80V814.60" fill="none" stroke="#333" stroke-width="4.0" stroke-linejoin="round"/>
<rect x="535.20" y="790.40" width="3.80" height="3.30" fill="#333"/>
<rect x="532.20" y="790.40" width="9.80" height="3.40" rx="1.5" fill="#333"/>
<g transform="translate(533.20,813.80)"><rect x="-2.00" y="-19.10" width="11.80" height="17.10" fill="url(#p6b)"/></g>
<path d="M531.20 814.60V794.70H543.00V814.60" fill="none" stroke="#333" stroke-width="4.0" stroke-linejoin="round"/>
<rect x="575.80" y="720.90" width="3.20" height="92.90" fill="#cfcfcf"/>
<rect x="594.20" y="773.00" width="2.80" height="40.80" fill="#cfcfcf"/>
<rect x="612.10" y="773.00" width="3.10" height="40.80" fill="#cfcfcf"/>
<rect x="630.10" y="760.70" width="3.10" height="53.10" fill="#cfcfcf"/>
<rect x="648.50" y="804.00" width="3.10" height="9.80" fill="#cfcfcf"/>
<rect x="566.30" y="713.40" width="3.80" height="6.60" fill="#333"/>
<rect x="563.30" y="713.40" width="9.80" height="3.40" rx="1.5" fill="#333"/>
<g transform="translate(564.30,813.80)"><rect x="-2.00" y="-92.80" width="11.80" height="90.80" fill="url(#p1b)"/></g>
<path d="M562.30 814.60V721.00H574.10V814.60" fill="none" stroke="#333" stroke-width="4.0" stroke-linejoin="round"/>
<rect x="584.70" y="713.40" width="3.80" height="6.60" fill="#333"/>
<rect x="581.70" y="713.40" width="9.80" height="3.40" rx="1.5" fill="#333"/>
<g transform="translate(582.70,813.80)"><rect x="-2.00" y="-92.80" width="11.80" height="90.80" fill="url(#p2b)"/></g>
<path d="M580.70 814.60V721.00H592.50V814.60" fill="none" stroke="#333" stroke-width="4.0" stroke-linejoin="round"/>
<rect x="602.65" y="768.70" width="3.80" height="3.00" fill="#333"/>
<rect x="599.65" y="768.70" width="9.80" height="3.40" rx="1.5" fill="#333"/>
<g transform="translate(600.70,813.80)"><rect x="-2.00" y="-41.10" width="11.70" height="39.10" fill="url(#p3b)"/></g>
<path d="M598.70 814.60V772.70H610.40V814.60" fill="none" stroke="#333" stroke-width="4.0" stroke-linejoin="round"/>
<rect x="620.75" y="753.78" width="3.80" height="4.91" fill="#333"/>
<rect x="617.75" y="753.78" width="9.80" height="3.40" rx="1.5" fill="#333"/>
<rect x="616.90" y="759.69" width="11.50" height="52.11" fill="#f2f2f2"/>
<rect x="621.50" y="759.69" width="2.3" height="52.11" fill="#8c8c8c"/>
<path d="M616.90 814.60V759.69H628.40V814.60" fill="none" stroke="#333" stroke-width="4.0" stroke-linejoin="round"/>
<rect x="638.95" y="755.98" width="3.80" height="3.45" fill="#333"/>
<rect x="635.95" y="755.98" width="9.80" height="3.40" rx="1.5" fill="#333"/>
<g transform="translate(636.90,813.80)"><rect x="-2.00" y="-53.37" width="11.90" height="51.37" fill="url(#p5b)"/></g>
<path d="M634.90 814.60V760.43H646.80V814.60" fill="none" stroke="#333" stroke-width="4.0" stroke-linejoin="round"/>
<rect x="657.25" y="800.00" width="3.80" height="2.70" fill="#333"/>
<rect x="654.25" y="800.00" width="9.80" height="3.40" rx="1.5" fill="#333"/>
<g transform="translate(655.30,813.80)"><rect x="-2.00" y="-10.10" width="11.70" height="8.10" fill="url(#p6b)"/></g>
<path d="M653.30 814.60V803.70H665.00V814.60" fill="none" stroke="#333" stroke-width="4.0" stroke-linejoin="round"/>
<text transform="translate(104.11,836.60) scale(1.1632,1)" font-size="17.00" font-weight="bold" fill="#111" stroke="#111" stroke-width="0.25">CMC</text>
<text transform="translate(204.00,836.60) scale(1.1819,1)" font-size="17.00" font-weight="bold" fill="#111" stroke="#111" stroke-width="0.25">Cellulose</text>
<text transform="translate(317.49,836.60) scale(1.1831,1)" font-size="17.00" font-weight="bold" fill="#111" stroke="#111" stroke-width="0.25">Root Crush</text>
<text transform="translate(448.50,836.60) scale(1.1737,1)" font-size="17.00" font-weight="bold" fill="#111" stroke="#111" stroke-width="0.25">RC+CMC</text>
<text transform="translate(598.00,836.60) scale(1.1474,1)" font-size="17.00" font-weight="bold" fill="#111" stroke="#111" stroke-width="0.25">WB</text>
<rect x="108.60" y="860.90" width="33.10" height="15.50" rx="2" fill="#333"/>
<g transform="translate(112.40,868.65)"><rect x="0" y="-4.65" width="25.50" height="9.30" fill="url(#p1b)"/></g>
<text transform="translate(155.85,874.20) scale(1.1790,1)" font-size="18.99" font-weight="normal" fill="#111" stroke="#111" stroke-width="0.22">T. reesei</text>
<rect x="112.90" y="898.90" width="33.00" height="15.40" rx="2" fill="#333"/>
<g transform="translate(116.70,906.60)"><rect x="0" y="-4.60" width="25.40" height="9.20" fill="url(#p2b)"/></g>
<text transform="translate(160.16,912.30) scale(1.1683,1)" font-size="18.84" font-weight="normal" fill="#111" stroke="#111" stroke-width="0.22">T. viride</text>
<rect x="268.20" y="860.90" width="32.20" height="15.50" rx="2" fill="#333"/>
<g transform="translate(272.00,868.65)"><rect x="0" y="-4.65" width="24.60" height="9.30" fill="url(#p3b)"/></g>
<text transform="translate(315.10,874.20) scale(1.1389,1)" font-size="18.99" font-weight="normal" fill="#111" stroke="#111" stroke-width="0.22">Actinomycetes</text>
<rect x="268.70" y="898.90" width="31.90" height="15.40" rx="2" fill="#333"/>
<g transform="translate(272.50,906.60)"><rect x="0" y="-4.60" width="24.30" height="9.20" fill="url(#p4b)"/></g>
<text transform="translate(314.15,912.30) scale(1.0980,1)" font-size="18.84" font-weight="normal" fill="#111" stroke="#111" stroke-width="0.22">MTR</text>
<rect x="483.10" y="860.90" width="32.20" height="15.50" rx="2" fill="#333"/>
<g transform="translate(486.90,868.65)"><rect x="0" y="-4.65" width="24.60" height="9.30" fill="url(#p5b)"/></g>
<text transform="translate(528.80,874.20) scale(1.0534,1)" font-size="18.99" font-weight="normal" fill="#111" stroke="#111" stroke-width="0.22">MTV</text>
<rect x="484.10" y="898.90" width="32.30" height="15.40" rx="2" fill="#333"/>
<g transform="translate(487.90,906.60)"><rect x="0" y="-4.60" width="24.70" height="9.20" fill="url(#p6b)"/></g>
<text transform="translate(530.47,912.30) scale(1.0826,1)" font-size="18.84" font-weight="normal" fill="#111" stroke="#111" stroke-width="0.22">MTK</text>
<rect x="68.60" y="965.40" width="2.4" height="387.40" fill="#3c3c3c"/>
<rect x="62.30" y="1350.40" width="603.40" height="2.4" fill="#3c3c3c"/>
<rect x="62.30" y="1273.40" width="7.50" height="2.4" fill="#3c3c3c"/>
<rect x="62.30" y="1196.40" width="7.50" height="2.4" fill="#3c3c3c"/>
<rect x="62.30" y="1119.40" width="7.50" height="2.4" fill="#3c3c3c"/>
<rect x="62.30" y="1042.40" width="7.50" height="2.4" fill="#3c3c3c"/>
<rect x="62.30" y="965.40" width="7.50" height="2.4" fill="#3c3c3c"/>
<rect x="127.10" y="1351.60" width="2.4" height="7.60" fill="#3c3c3c"/>
<rect x="246.00" y="1351.60" width="2.4" height="7.60" fill="#3c3c3c"/>
<rect x="364.20" y="1351.60" width="2.4" height="7.60" fill="#3c3c3c"/>
<rect x="481.70" y="1351.60" width="2.4" height="7.60" fill="#3c3c3c"/>
<rect x="601.00" y="1351.60" width="2.4" height="7.60" fill="#3c3c3c"/>
<text text-anchor="end" transform="translate(60.94,1357.60) scale(0.9580,1)" font-size="17.54" font-weight="bold" fill="#111" stroke="#111" stroke-width="0.3">0</text>
<text text-anchor="end" transform="translate(60.94,1280.60) scale(0.9580,1)" font-size="17.54" font-weight="bold" fill="#111" stroke="#111" stroke-width="0.3">1</text>
<text text-anchor="end" transform="translate(60.94,1203.60) scale(0.9580,1)" font-size="17.54" font-weight="bold" fill="#111" stroke="#111" stroke-width="0.3">2</text>
<text text-anchor="end" transform="translate(60.94,1126.60) scale(0.9580,1)" font-size="17.54" font-weight="bold" fill="#111" stroke="#111" stroke-width="0.3">3</text>
<text text-anchor="end" transform="translate(60.94,1049.60) scale(0.9580,1)" font-size="17.54" font-weight="bold" fill="#111" stroke="#111" stroke-width="0.3">4</text>
<text text-anchor="end" transform="translate(60.94,972.60) scale(0.9580,1)" font-size="17.54" font-weight="bold" fill="#111" stroke="#111" stroke-width="0.3">5</text>
<text transform="translate(16.30,1253.33) rotate(-90) scale(0.9479,1.0362)" font-size="20.0" font-weight="bold" fill="#000" stroke="#000" stroke-width="0.15">BGL</text>
<text transform="translate(16.30,1207.78) rotate(-90) scale(0.9637,1.0362)" font-size="20.0" font-weight="bold" fill="#000" stroke="#000" stroke-width="0.15">Activity</text>
<text transform="translate(16.30,1132.69) rotate(-90) scale(0.9895,1.0362)" font-size="20.0" font-weight="bold" fill="#000" stroke="#000" stroke-width="0.15">(IU/mL)</text>
<text transform="translate(100.65,975.30) scale(0.9640,1)" font-size="34.14" font-weight="normal" fill="#111" stroke="#111" stroke-width="0.22">C</text>
<rect x="91.70" y="1216.50" width="3.50" height="135.10" fill="#e8e8e8"/>
<rect x="109.40" y="1320.70" width="3.30" height="30.90" fill="#e8e8e8"/>
<rect x="126.60" y="1320.70" width="3.60" height="30.90" fill="#e8e8e8"/>
<rect x="144.30" y="1244.10" width="3.50" height="107.50" fill="#e8e8e8"/>
<rect x="161.90" y="1343.30" width="3.80" height="8.30" fill="#e8e8e8"/>
<rect x="82.85" y="1204.33" width="3.60" height="4.77" fill="#333"/>
<rect x="79.95" y="1204.33" width="9.40" height="3.30" rx="1.5" fill="#333"/>
<g transform="translate(80.90,1351.60)"><rect x="-1.80" y="-141.70" width="11.10" height="139.90" fill="url(#p1c)"/></g>
<path d="M79.10 1352.40V1209.90H90.20V1352.40" fill="none" stroke="#333" stroke-width="3.6" stroke-linejoin="round"/>
<rect x="100.50" y="1211.52" width="3.60" height="3.74" fill="#333"/>
<rect x="97.60" y="1211.52" width="9.40" height="3.30" rx="1.5" fill="#333"/>
<g transform="translate(98.50,1351.60)"><rect x="-1.80" y="-135.54" width="11.20" height="133.74" fill="url(#p2c)"/></g>
<path d="M96.70 1352.40V1216.06H107.90V1352.40" fill="none" stroke="#333" stroke-width="3.6" stroke-linejoin="round"/>
<rect x="117.85" y="1315.97" width="3.60" height="3.45" fill="#333"/>
<rect x="114.95" y="1315.97" width="9.40" height="3.30" rx="1.5" fill="#333"/>
<g transform="translate(116.00,1351.60)"><rect x="-1.80" y="-31.38" width="10.90" height="29.58" fill="url(#p3c)"/></g>
<path d="M114.20 1352.40V1320.22H125.10V1352.40" fill="none" stroke="#333" stroke-width="3.6" stroke-linejoin="round"/>
<rect x="135.45" y="1214.00" width="3.60" height="29.10" fill="#333"/>
<rect x="132.55" y="1214.00" width="9.40" height="3.30" rx="1.5" fill="#333"/>
<rect x="131.70" y="1243.90" width="11.10" height="105.90" fill="#f2f2f2"/>
<rect x="136.10" y="1243.90" width="2.3" height="105.90" fill="#8c8c8c"/>
<path d="M131.70 1352.40V1243.90H142.80V1352.40" fill="none" stroke="#333" stroke-width="3.6" stroke-linejoin="round"/>
<rect x="153.05" y="1229.20" width="3.60" height="13.90" fill="#333"/>
<rect x="150.15" y="1229.20" width="9.40" height="3.30" rx="1.5" fill="#333"/>
<g transform="translate(151.10,1351.60)"><rect x="-1.80" y="-107.70" width="11.10" height="105.90" fill="url(#p5c)"/></g>
<path d="M149.30 1352.40V1243.90H160.40V1352.40" fill="none" stroke="#333" stroke-width="3.6" stroke-linejoin="round"/>
<rect x="171.00" y="1340.10" width="3.60" height="1.90" fill="#333"/>
<rect x="168.10" y="1340.10" width="9.40" height="3.30" rx="1.5" fill="#333"/>
<g transform="translate(169.00,1351.60)"><rect x="-1.80" y="-8.80" width="11.20" height="7.00" fill="url(#p6c)"/></g>
<path d="M167.20 1352.40V1342.80H178.40V1352.40" fill="none" stroke="#333" stroke-width="3.6" stroke-linejoin="round"/>
<rect x="209.80" y="1293.60" width="3.50" height="58.00" fill="#e8e8e8"/>
<rect x="227.70" y="1323.00" width="3.50" height="28.60" fill="#e8e8e8"/>
<rect x="245.20" y="1323.00" width="3.50" height="28.60" fill="#e8e8e8"/>
<rect x="263.10" y="1043.30" width="3.50" height="308.30" fill="#e8e8e8"/>
<rect x="200.75" y="1290.30" width="3.60" height="2.00" fill="#333"/>
<rect x="197.85" y="1290.30" width="9.40" height="3.30" rx="1.5" fill="#333"/>
<g transform="translate(198.60,1351.60)"><rect x="-1.80" y="-58.50" width="11.50" height="56.70" fill="url(#p1c)"/></g>
<path d="M196.80 1352.40V1293.10H208.30V1352.40" fill="none" stroke="#333" stroke-width="3.6" stroke-linejoin="round"/>
<rect x="218.70" y="1280.30" width="3.60" height="5.80" fill="#333"/>
<rect x="215.80" y="1280.30" width="9.40" height="3.30" rx="1.5" fill="#333"/>
<g transform="translate(216.60,1351.60)"><rect x="-1.80" y="-64.70" width="11.40" height="62.90" fill="url(#p2c)"/></g>
<path d="M214.80 1352.40V1286.90H226.20V1352.40" fill="none" stroke="#333" stroke-width="3.6" stroke-linejoin="round"/>
<rect x="236.40" y="1319.40" width="3.60" height="2.30" fill="#333"/>
<rect x="233.50" y="1319.40" width="9.40" height="3.30" rx="1.5" fill="#333"/>
<g transform="translate(234.50,1351.60)"><rect x="-1.80" y="-29.10" width="11.00" height="27.30" fill="url(#p3c)"/></g>
<path d="M232.70 1352.40V1322.50H243.70V1352.40" fill="none" stroke="#333" stroke-width="3.6" stroke-linejoin="round"/>
<rect x="254.10" y="1024.50" width="3.60" height="17.80" fill="#333"/>
<rect x="251.20" y="1024.50" width="9.40" height="3.30" rx="1.5" fill="#333"/>
<rect x="250.20" y="1043.10" width="11.40" height="306.70" fill="#f2f2f2"/>
<rect x="254.75" y="1043.10" width="2.3" height="306.70" fill="#8c8c8c"/>
<path d="M250.20 1352.40V1043.10H261.60V1352.40" fill="none" stroke="#333" stroke-width="3.6" stroke-linejoin="round"/>
<rect x="272.00" y="1032.90" width="3.60" height="9.40" fill="#333"/>
<rect x="269.10" y="1032.90" width="9.40" height="3.30" rx="1.5" fill="#333"/>
<g transform="translate(269.90,1351.60)"><rect x="-1.80" y="-308.50" width="11.40" height="306.70" fill="url(#p5c)"/></g>
<path d="M268.10 1352.40V1043.10H279.50V1352.40" fill="none" stroke="#333" stroke-width="3.6" stroke-linejoin="round"/>
<path d="M283.70 1351.60V1351.60Q283.70 1349.70 287.50 1349.70H295.50Q299.30 1349.70 299.30 1351.60V1351.60Z" fill="#333"/>
<rect x="328.40" y="1303.80" width="3.20" height="47.80" fill="#e8e8e8"/>
<rect x="345.90" y="1303.80" width="3.20" height="47.80" fill="#e8e8e8"/>
<rect x="363.70" y="1328.30" width="3.30" height="23.30" fill="#e8e8e8"/>
<rect x="381.30" y="1328.30" width="3.20" height="23.30" fill="#e8e8e8"/>
<rect x="399.30" y="1335.30" width="3.20" height="16.30" fill="#e8e8e8"/>
<rect x="319.15" y="1298.30" width="3.60" height="1.70" fill="#333"/>
<rect x="316.25" y="1298.30" width="9.40" height="3.30" rx="1.5" fill="#333"/>
<g transform="translate(316.80,1351.60)"><rect x="-1.80" y="-50.80" width="11.90" height="49.00" fill="url(#p1c)"/></g>
<path d="M315.00 1352.40V1300.80H326.90V1352.40" fill="none" stroke="#333" stroke-width="3.6" stroke-linejoin="round"/>
<rect x="336.95" y="1296.90" width="3.60" height="5.90" fill="#333"/>
<rect x="334.05" y="1296.90" width="9.40" height="3.30" rx="1.5" fill="#333"/>
<g transform="translate(334.90,1351.60)"><rect x="-1.80" y="-48.00" width="11.30" height="46.20" fill="url(#p2c)"/></g>
<path d="M333.10 1352.40V1303.60H344.40V1352.40" fill="none" stroke="#333" stroke-width="3.6" stroke-linejoin="round"/>
<rect x="354.60" y="1297.40" width="3.60" height="3.00" fill="#333"/>
<rect x="351.70" y="1297.40" width="9.40" height="3.30" rx="1.5" fill="#333"/>
<g transform="translate(352.40,1351.60)"><rect x="-1.80" y="-50.40" width="11.60" height="48.60" fill="url(#p3c)"/></g>
<path d="M350.60 1352.40V1301.20H362.20V1352.40" fill="none" stroke="#333" stroke-width="3.6" stroke-linejoin="round"/>
<rect x="372.35" y="1323.07" width="3.60" height="4.03" fill="#333"/>
<rect x="369.45" y="1323.07" width="9.40" height="3.30" rx="1.5" fill="#333"/>
<rect x="368.50" y="1327.90" width="11.30" height="21.90" fill="#f2f2f2"/>
<rect x="373.00" y="1327.90" width="2.3" height="21.90" fill="#8c8c8c"/>
<path d="M368.50 1352.40V1327.90H379.80V1352.40" fill="none" stroke="#333" stroke-width="3.6" stroke-linejoin="round"/>
<rect x="390.10" y="1322.56" width="3.60" height="4.62" fill="#333"/>
<rect x="387.20" y="1322.56" width="9.40" height="3.30" rx="1.5" fill="#333"/>
<g transform="translate(387.80,1351.60)"><rect x="-1.80" y="-23.62" width="11.80" height="21.82" fill="url(#p5c)"/></g>
<path d="M386.00 1352.40V1327.98H397.80V1352.40" fill="none" stroke="#333" stroke-width="3.6" stroke-linejoin="round"/>
<rect x="407.85" y="1331.10" width="3.60" height="2.90" fill="#333"/>
<rect x="404.95" y="1331.10" width="9.40" height="3.30" rx="1.5" fill="#333"/>
<g transform="translate(405.80,1351.60)"><rect x="-1.80" y="-16.80" width="11.30" height="15.00" fill="url(#p6c)"/></g>
<path d="M404.00 1352.40V1334.80H415.30V1352.40" fill="none" stroke="#333" stroke-width="3.6" stroke-linejoin="round"/>
<rect x="446.90" y="1239.50" width="3.00" height="112.10" fill="#e8e8e8"/>
<rect x="464.40" y="1293.20" width="3.00" height="58.40" fill="#e8e8e8"/>
<rect x="481.90" y="1305.10" width="3.10" height="46.50" fill="#e8e8e8"/>
<rect x="500.10" y="1305.10" width="2.70" height="46.50" fill="#e8e8e8"/>
<rect x="518.00" y="1332.40" width="3.00" height="19.20" fill="#e8e8e8"/>
<rect x="437.50" y="1206.00" width="3.60" height="9.80" fill="#333"/>
<rect x="434.60" y="1206.00" width="9.40" height="3.30" rx="1.5" fill="#333"/>
<g transform="translate(435.00,1351.60)"><rect x="-1.80" y="-135.00" width="12.20" height="133.20" fill="url(#p1c)"/></g>
<path d="M433.20 1352.40V1216.60H445.40V1352.40" fill="none" stroke="#333" stroke-width="3.6" stroke-linejoin="round"/>
<rect x="455.35" y="1235.50" width="3.60" height="2.70" fill="#333"/>
<rect x="452.45" y="1235.50" width="9.40" height="3.30" rx="1.5" fill="#333"/>
<g transform="translate(453.20,1351.60)"><rect x="-1.80" y="-112.60" width="11.50" height="110.80" fill="url(#p2c)"/></g>
<path d="M451.40 1352.40V1239.00H462.90V1352.40" fill="none" stroke="#333" stroke-width="3.6" stroke-linejoin="round"/>
<rect x="472.85" y="1289.40" width="3.60" height="2.50" fill="#333"/>
<rect x="469.95" y="1289.40" width="9.40" height="3.30" rx="1.5" fill="#333"/>
<g transform="translate(470.70,1351.60)"><rect x="-1.80" y="-58.90" width="11.50" height="57.10" fill="url(#p3c)"/></g>
<path d="M468.90 1352.40V1292.70H480.40V1352.40" fill="none" stroke="#333" stroke-width="3.6" stroke-linejoin="round"/>
<rect x="490.75" y="1298.20" width="3.60" height="5.90" fill="#333"/>
<rect x="487.85" y="1298.20" width="9.40" height="3.30" rx="1.5" fill="#333"/>
<rect x="486.50" y="1304.90" width="12.10" height="44.90" fill="#f2f2f2"/>
<rect x="491.40" y="1304.90" width="2.3" height="44.90" fill="#8c8c8c"/>
<path d="M486.50 1352.40V1304.90H498.60V1352.40" fill="none" stroke="#333" stroke-width="3.6" stroke-linejoin="round"/>
<rect x="508.60" y="1300.25" width="3.60" height="3.59" fill="#333"/>
<rect x="505.70" y="1300.25" width="9.40" height="3.30" rx="1.5" fill="#333"/>
<g transform="translate(506.10,1351.60)"><rect x="-1.80" y="-46.96" width="12.20" height="45.16" fill="url(#p5c)"/></g>
<path d="M504.30 1352.40V1304.64H516.50V1352.40" fill="none" stroke="#333" stroke-width="3.6" stroke-linejoin="round"/>
<rect x="526.30" y="1327.17" width="3.60" height="4.03" fill="#333"/>
<rect x="523.40" y="1327.17" width="9.40" height="3.30" rx="1.5" fill="#333"/>
<g transform="translate(524.30,1351.60)"><rect x="-1.80" y="-19.60" width="11.20" height="17.80" fill="url(#p6c)"/></g>
<path d="M522.50 1352.40V1332.00H533.70V1352.40" fill="none" stroke="#333" stroke-width="3.6" stroke-linejoin="round"/>
<rect x="564.70" y="1325.30" width="3.40" height="26.30" fill="#e8e8e8"/>
<rect x="582.40" y="1328.60" width="3.70" height="23.00" fill="#e8e8e8"/>
<rect x="555.55" y="1263.50" width="3.60" height="10.40" fill="#333"/>
<rect x="552.65" y="1263.50" width="9.40" height="3.30" rx="1.5" fill="#333"/>
<g transform="translate(553.30,1351.60)"><rect x="-1.80" y="-76.90" width="11.70" height="75.10" fill="url(#p1c)"/></g>
<path d="M551.50 1352.40V1274.70H563.20V1352.40" fill="none" stroke="#333" stroke-width="3.6" stroke-linejoin="round"/>
<rect x="573.45" y="1321.50" width="3.60" height="2.50" fill="#333"/>
<rect x="570.55" y="1321.50" width="9.40" height="3.30" rx="1.5" fill="#333"/>
<g transform="translate(571.40,1351.60)"><rect x="-1.80" y="-26.80" width="11.30" height="25.00" fill="url(#p2c)"/></g>
<path d="M569.60 1352.40V1324.80H580.90V1352.40" fill="none" stroke="#333" stroke-width="3.6" stroke-linejoin="round"/>
<rect x="591.25" y="1326.00" width="3.60" height="1.30" fill="#333"/>
<rect x="588.35" y="1326.00" width="9.40" height="3.30" rx="1.5" fill="#333"/>
<g transform="translate(589.40,1351.60)"><rect x="-1.80" y="-23.50" width="10.90" height="21.70" fill="url(#p3c)"/></g>
<path d="M587.60 1352.40V1328.10H598.50V1352.40" fill="none" stroke="#333" stroke-width="3.6" stroke-linejoin="round"/>
<path d="M603.30 1351.60V1350.40Q603.30 1347.90 608.30 1347.90H612.80Q617.80 1347.90 617.80 1350.40V1351.60Z" fill="#333"/>
<path d="M621.00 1351.60V1350.60Q621.00 1348.10 626.00 1348.10H630.70Q635.70 1348.10 635.70 1350.60V1351.60Z" fill="#333"/>
<path d="M639.00 1351.60V1351.00Q639.00 1348.50 644.00 1348.50H648.20Q653.20 1348.50 653.20 1351.00V1351.60Z" fill="#333"/>
<text transform="translate(108.70,1375.20) scale(1.0078,1)" font-size="17.29" font-weight="bold" fill="#111" stroke="#111" stroke-width="0.25">CMC</text>
<text transform="translate(207.19,1375.20) scale(1.0299,1)" font-size="17.29" font-weight="bold" fill="#111" stroke="#111" stroke-width="0.25">Cellulose</text>
<text transform="translate(316.34,1375.20) scale(1.0352,1)" font-size="17.29" font-weight="bold" fill="#111" stroke="#111" stroke-width="0.25">Root Crush</text>
<text transform="translate(444.64,1375.20) scale(1.0349,1)" font-size="17.29" font-weight="bold" fill="#111" stroke="#111" stroke-width="0.25">RC+CMC</text>
<text transform="translate(587.70,1375.20) scale(1.0106,1)" font-size="17.29" font-weight="bold" fill="#111" stroke="#111" stroke-width="0.25">WB</text>
<rect x="125.30" y="1402.40" width="29.30" height="16.20" rx="2" fill="#333"/>
<g transform="translate(128.70,1410.50)"><rect x="0" y="-5.40" width="22.50" height="10.80" fill="url(#p1c)"/></g>
<text transform="translate(167.10,1416.40) scale(0.9596,1)" font-size="20.87" font-weight="normal" fill="#111" stroke="#111" stroke-width="0.22">T. reesei</text>
<rect x="126.00" y="1445.00" width="29.30" height="15.80" rx="2" fill="#333"/>
<g transform="translate(129.40,1452.90)"><rect x="0" y="-5.20" width="22.50" height="10.40" fill="url(#p2c)"/></g>
<text transform="translate(168.30,1458.80) scale(0.9744,1)" font-size="20.43" font-weight="normal" fill="#111" stroke="#111" stroke-width="0.22">T. viride</text>
<rect x="276.90" y="1402.40" width="29.20" height="16.20" rx="2" fill="#333"/>
<g transform="translate(280.30,1410.50)"><rect x="0" y="-5.40" width="22.40" height="10.80" fill="url(#p3c)"/></g>
<text transform="translate(318.40,1416.40) scale(0.9295,1)" font-size="20.87" font-weight="normal" fill="#111" stroke="#111" stroke-width="0.22">Actinomycetes</text>
<rect x="277.50" y="1445.00" width="28.60" height="15.80" rx="2" fill="#333"/>
<g transform="translate(280.90,1452.90)"><rect x="0" y="-5.20" width="21.80" height="10.40" fill="url(#p4c)"/></g>
<text transform="translate(317.81,1458.80) scale(0.9092,1)" font-size="20.43" font-weight="normal" fill="#111" stroke="#111" stroke-width="0.22">MTR</text>
<rect x="485.00" y="1402.40" width="28.90" height="16.20" rx="2" fill="#333"/>
<g transform="translate(488.40,1410.50)"><rect x="0" y="-5.40" width="22.10" height="10.80" fill="url(#p5c)"/></g>
<text transform="translate(525.24,1416.40) scale(0.8731,1)" font-size="20.87" font-weight="normal" fill="#111" stroke="#111" stroke-width="0.22">MTV</text>
<rect x="485.00" y="1445.00" width="28.90" height="15.80" rx="2" fill="#333"/>
<g transform="translate(488.40,1452.90)"><rect x="0" y="-5.20" width="22.10" height="10.40" fill="url(#p6c)"/></g>
<text transform="translate(525.21,1458.80) scale(0.9109,1)" font-size="20.43" font-weight="normal" fill="#111" stroke="#111" stroke-width="0.22">MTK</text>
</g>
</svg>
</body></html>
